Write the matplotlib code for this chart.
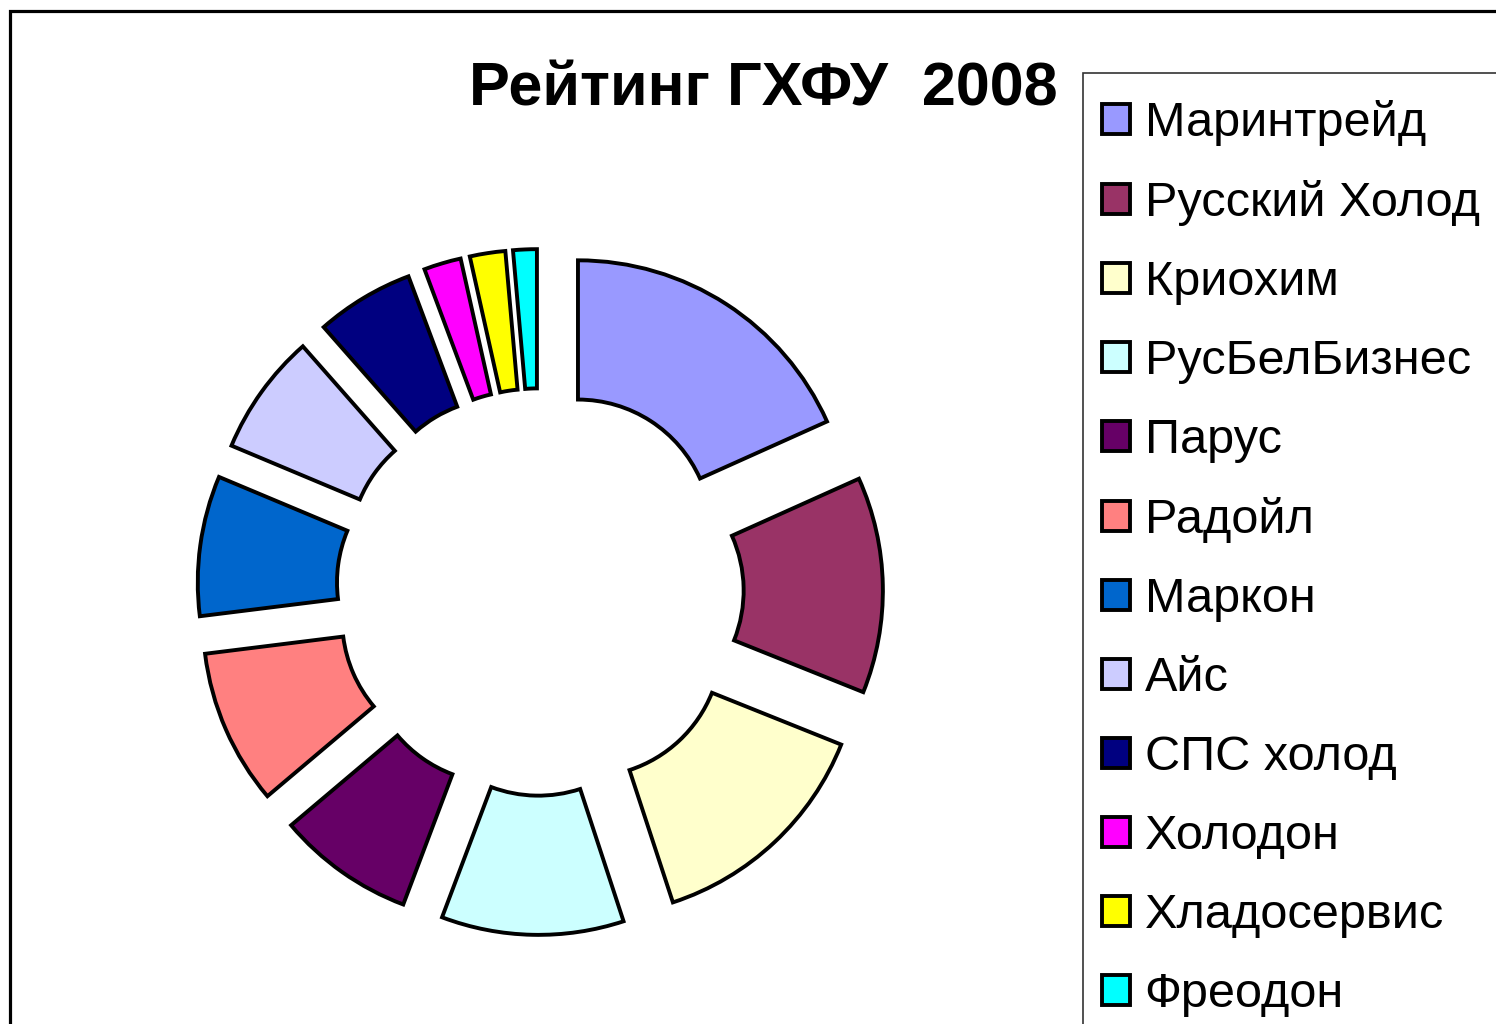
import numpy as np
import matplotlib
matplotlib.use("Agg")
import matplotlib.pyplot as plt
from matplotlib.patches import Rectangle

plt.rcParams['font.family'] = ['Liberation Sans', 'DejaVu Sans']

# share of ratings, %
companies = ['Маринтрейд', 'Русский Холод', 'Криохим', 'РусБелБизнес', 'Парус',
             'Радойл', 'Маркон', 'Айс', 'СПС холод', 'Холодон', 'Хладосервис', 'Фреодон']
shares = [18.3, 12.8, 13.9, 10.8, 8.1, 9.2, 8.3, 7.2, 5.8, 2.2, 2.1, 1.4]
colors = ['#9999FF', '#993366', '#FFFFCC', '#CCFFFF', '#660066', '#FF8080',
          '#0066CC', '#CCCCFF', '#000080', '#FF00FF', '#FFFF00', '#00FFFF']

W, H = 1496, 1024
fig = plt.figure(figsize=(W / 100, H / 100), dpi=100)

# axes so that radius 1 ~ 273 px, centre at (540, 592) px
span = 3.0 * 273
cx, cy = 540, H - 592
ax = fig.add_axes([(cx - span / 2) / W, (cy - span / 2) / H, span / W, span / H])

wedges, _ = ax.pie(shares, colors=colors, startangle=90, counterclock=False,
                   explode=[0.256] * len(shares), radius=1.0,
                   wedgeprops=dict(width=0.51, edgecolor='black', linewidth=2.8))
ax.set_xlim(-1.5, 1.5)
ax.set_ylim(-1.5, 1.5)
ax.set_aspect('equal')
ax.axis('off')

fig.text(763 / W, 1 - 90 / H, 'Рейтинг ГХФУ  2008', ha='center', va='center',
         fontsize=44, fontweight='bold')

# legend box runs off the right and bottom edges
fig.patches.append(Rectangle((1083 / W, -0.5), 1.0, 1.5 - 73 / H, transform=fig.transFigure,
                             fill=False, edgecolor='#333333', linewidth=1.2))
fig.legend(wedges, companies, loc='upper left',
           bbox_to_anchor=(1080 / W, 1 - 78 / H), bbox_transform=fig.transFigure,
           borderaxespad=0, fontsize=35, handlelength=0.58, handleheight=0.58,
           handletextpad=0.3, labelspacing=0.70, borderpad=0.45,
           frameon=False)

# outer chart-area border
fig.patches.append(Rectangle((10 / W, -0.5), 2.0, 1.5 - 11 / H, transform=fig.transFigure,
                             fill=False, edgecolor='black', linewidth=2.3))

fig.savefig('out.png', dpi=100, facecolor='white')
